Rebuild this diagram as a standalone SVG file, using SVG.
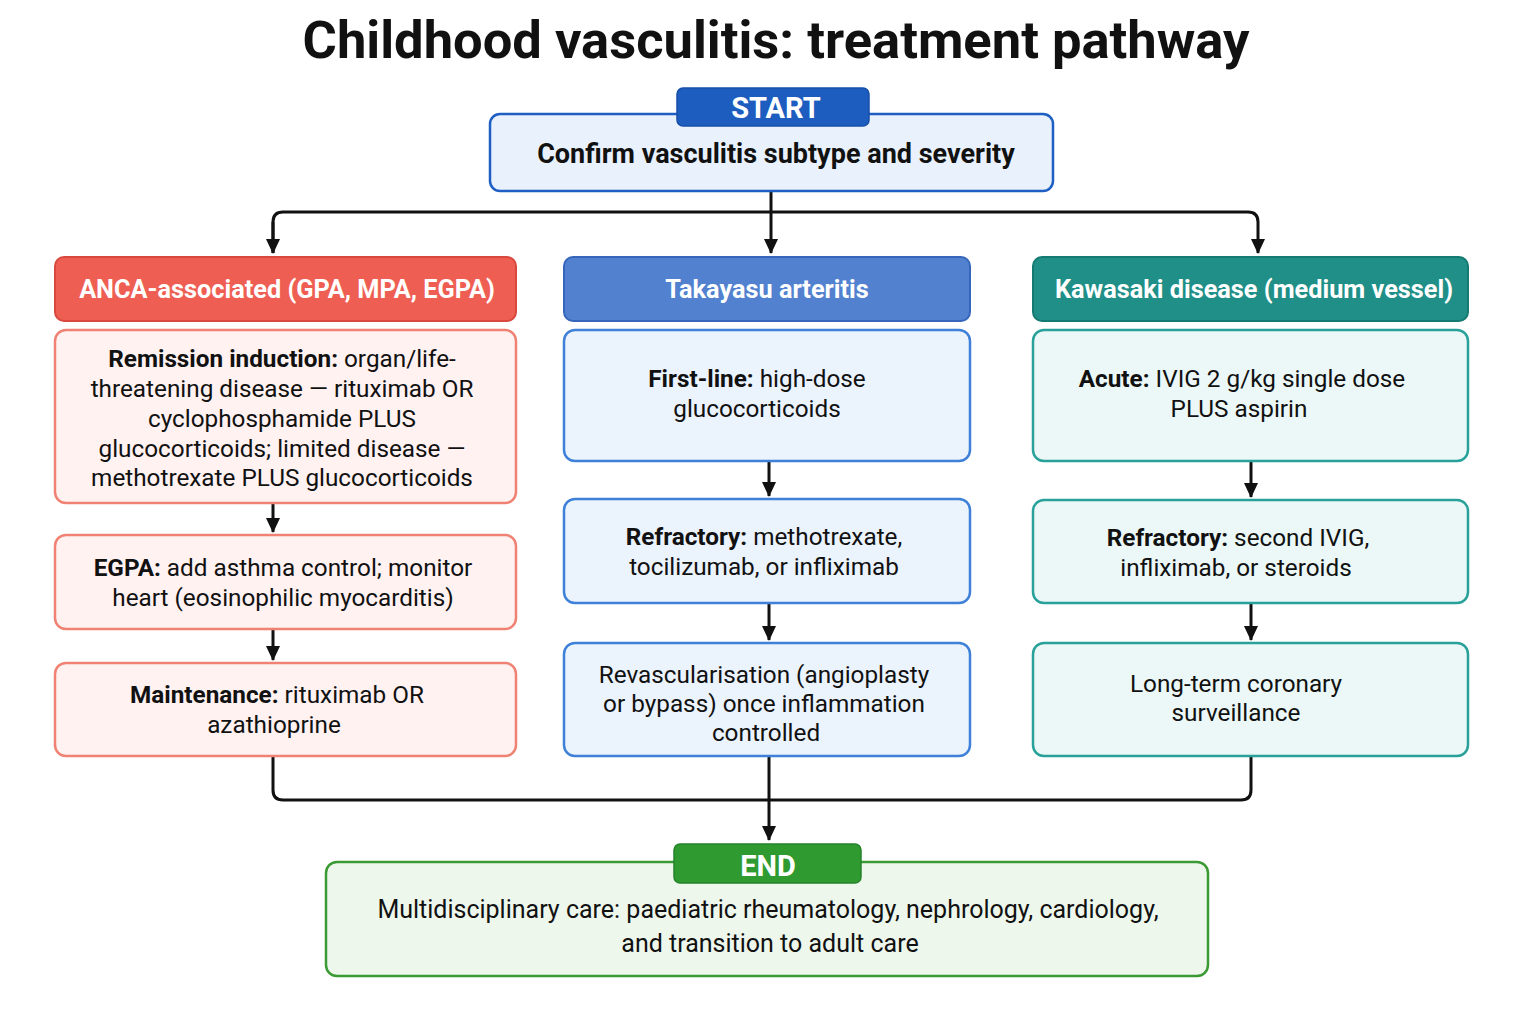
<svg xmlns="http://www.w3.org/2000/svg" width="1536" height="1024" viewBox="0 0 1536 1024">
<defs>
<marker id="ah" markerWidth="15" markerHeight="15" refX="14" refY="7.5" orient="auto" markerUnits="userSpaceOnUse" viewBox="0 0 15 15">
<path d="M0,0.5 L15,7.5 L0,14.5 z" fill="#111"/>
</marker>
<style>
text{font-family:Roboto,"Liberation Sans",sans-serif;fill:#111;text-anchor:middle}
.title{font-size:52.5px;font-weight:bold}
.hd{font-size:25.3px;font-weight:bold;fill:#fff}
.tab{font-size:29px;font-weight:bold;fill:#fff}
.t{font-size:24.3px}
.b{font-weight:bold}
.conn{fill:none;stroke:#111;stroke-width:3;stroke-linejoin:round}
.red-h{fill:#ef5e52;stroke:#d9483e;stroke-width:2}
.red-b{fill:#fff2f1;stroke:#f08274;stroke-width:2.5}
.blue-h{fill:#5181cf;stroke:#3566bb;stroke-width:2}
.blue-b{fill:#ebf3fd;stroke:#3f80d8;stroke-width:2.5}
.teal-h{fill:#1f8f87;stroke:#157a72;stroke-width:2}
.teal-b{fill:#ebf8f7;stroke:#27a199;stroke-width:2.5}
</style>
</defs>
<rect width="1536" height="1024" fill="#fff"/>
<text class="title" x="776" y="58">Childhood vasculitis: treatment pathway</text>

<g id="connectors">
<path class="conn" d="M771,191 V253" marker-end="url(#ah)"/>
<path class="conn" d="M273,253 V222 Q273,212 283,212 H1248 Q1258,212 1258,222 V253" marker-end="url(#ah)"/>
<path class="conn" d="M273,222 V253" marker-end="url(#ah)"/>
<path class="conn" d="M273,503 V532" marker-end="url(#ah)"/>
<path class="conn" d="M273,629 V660" marker-end="url(#ah)"/>
<path class="conn" d="M769,461 V496" marker-end="url(#ah)"/>
<path class="conn" d="M769,603 V640" marker-end="url(#ah)"/>
<path class="conn" d="M1251,461 V497" marker-end="url(#ah)"/>
<path class="conn" d="M1251,603 V640" marker-end="url(#ah)"/>
<path class="conn" d="M273,756 V790 Q273,800 283,800 H1241 Q1251,800 1251,790 V756"/>
<path class="conn" d="M769,756 V840" marker-end="url(#ah)"/>
</g>

<g id="start">
<rect x="490" y="114" width="563" height="77" rx="10" fill="#e9f1fc" stroke="#1f5fc4" stroke-width="2.5"/>
<rect x="677" y="88" width="192" height="38" rx="6" fill="#1c5dbf" stroke="#174fa8" stroke-width="1.5"/>
<text class="tab" x="776" y="118">START</text>
<text class="b" x="776" y="163" style="font-size:27px">Confirm vasculitis subtype and severity</text>
</g>

<g id="anca-header">
<rect class="red-h" x="55" y="257" width="461" height="64" rx="9"/>
<text class="hd" x="287" y="298">ANCA-associated (GPA, MPA, EGPA)</text>
</g>
<g id="anca-induction">
<rect class="red-b" x="55" y="330" width="461" height="173" rx="11"/>
<text class="t" x="282" y="367"><tspan class="b">Remission induction:</tspan> organ/life-</text>
<text class="t" x="282" y="397">threatening disease — rituximab OR</text>
<text class="t" x="282" y="427">cyclophosphamide PLUS</text>
<text class="t" x="282" y="457">glucocorticoids; limited disease —</text>
<text class="t" x="282" y="486">methotrexate PLUS glucocorticoids</text>
</g>
<g id="anca-egpa">
<rect class="red-b" x="55" y="535" width="461" height="94" rx="11"/>
<text class="t" x="283" y="576"><tspan class="b">EGPA:</tspan> add asthma control; monitor</text>
<text class="t" x="283" y="606">heart (eosinophilic myocarditis)</text>
</g>
<g id="anca-maintenance">
<rect class="red-b" x="55" y="663" width="461" height="93" rx="11"/>
<text class="t" x="277" y="703"><tspan class="b">Maintenance:</tspan> rituximab OR</text>
<text class="t" x="274" y="733">azathioprine</text>
</g>

<g id="tak-header">
<rect class="blue-h" x="564" y="257" width="406" height="64" rx="9"/>
<text class="hd" x="767" y="298">Takayasu arteritis</text>
</g>
<g id="tak-first">
<rect class="blue-b" x="564" y="330" width="406" height="131" rx="11"/>
<text class="t" x="757" y="387"><tspan class="b">First-line:</tspan> high-dose</text>
<text class="t" x="757" y="417">glucocorticoids</text>
</g>
<g id="tak-refractory">
<rect class="blue-b" x="564" y="499" width="406" height="104" rx="11"/>
<text class="t" x="764" y="545"><tspan class="b">Refractory:</tspan> methotrexate,</text>
<text class="t" x="764" y="575">tocilizumab, or infliximab</text>
</g>
<g id="tak-revasc">
<rect class="blue-b" x="564" y="643" width="406" height="113" rx="11"/>
<text class="t" x="764" y="683">Revascularisation (angioplasty</text>
<text class="t" x="764" y="712">or bypass) once inflammation</text>
<text class="t" x="766" y="741">controlled</text>
</g>

<g id="kaw-header">
<rect class="teal-h" x="1033" y="257" width="435" height="64" rx="9"/>
<text class="hd" x="1254" y="298">Kawasaki disease (medium vessel)</text>
</g>
<g id="kaw-acute">
<rect class="teal-b" x="1033" y="330" width="435" height="131" rx="11"/>
<text class="t" x="1242" y="387"><tspan class="b">Acute:</tspan> IVIG 2 g/kg single dose</text>
<text class="t" x="1239" y="417">PLUS aspirin</text>
</g>
<g id="kaw-refractory">
<rect class="teal-b" x="1033" y="500" width="435" height="103" rx="11"/>
<text class="t" x="1238" y="546"><tspan class="b">Refractory:</tspan> second IVIG,</text>
<text class="t" x="1236" y="576">infliximab, or steroids</text>
</g>
<g id="kaw-surveillance">
<rect class="teal-b" x="1033" y="643" width="435" height="113" rx="11"/>
<text class="t" x="1236" y="692">Long-term coronary</text>
<text class="t" x="1236" y="721">surveillance</text>
</g>

<g id="end">
<rect x="326" y="862" width="882" height="114" rx="11" fill="#eef7ec" stroke="#3a9a34" stroke-width="2.5"/>
<rect x="674" y="844" width="187" height="39" rx="6" fill="#2f9a30" stroke="#25832a" stroke-width="1.5"/>
<text class="tab" x="768" y="876">END</text>
<text class="t" x="768" y="918" style="font-size:25px">Multidisciplinary care: paediatric rheumatology, nephrology, cardiology,</text>
<text class="t" x="770" y="952" style="font-size:25px">and transition to adult care</text>
</g>
</svg>
